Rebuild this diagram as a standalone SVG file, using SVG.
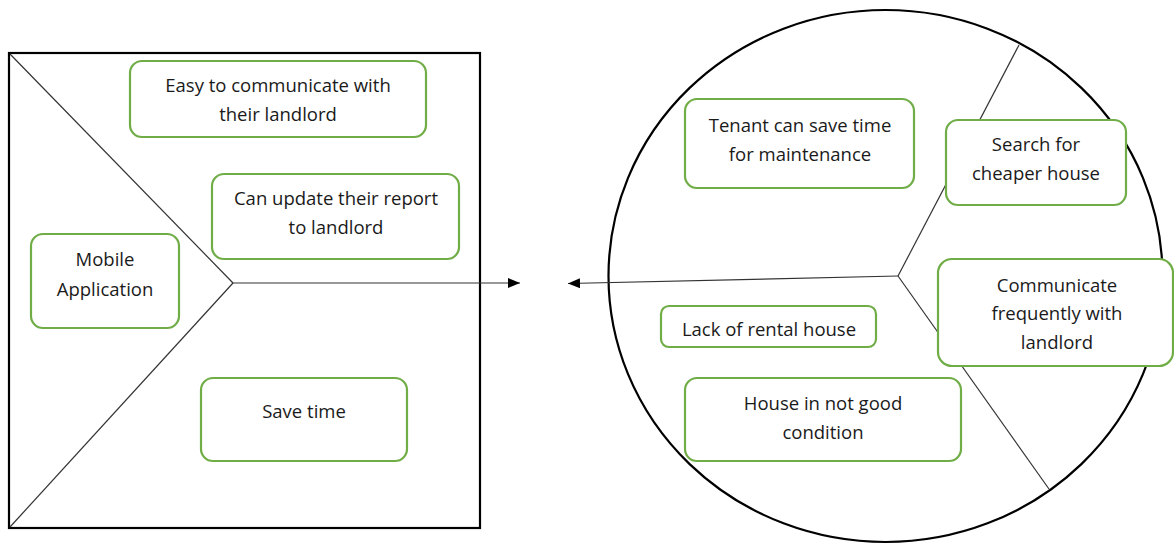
<svg xmlns="http://www.w3.org/2000/svg" width="1174" height="544" viewBox="0 0 1174 544">
  <style>
    .node rect { fill: #ffffff; stroke: #70AD47; stroke-width: 2.2; }
    .node text { font-family: "Open Sans", "Liberation Sans", sans-serif; font-size: 18.5px; fill: #1a1a1a; text-anchor: middle; }
    .conn { stroke: #333333; stroke-width: 1.2; fill: none; }
    .frame { fill: #ffffff; stroke: #000000; stroke-width: 2.2; }
  </style>
  <defs>
    <marker id="arrow" viewBox="0 0 12 10" refX="12" refY="5" markerWidth="12" markerHeight="10" markerUnits="userSpaceOnUse" orient="auto">
      <path d="M0,0 L12,5 L0,10 Z" fill="#000000"/>
    </marker>
  </defs>
  <rect width="1174" height="544" fill="#ffffff"/>
  <g id="frames">
    <rect class="frame" x="9" y="53" width="471" height="475"/>
    <ellipse class="frame" cx="885.5" cy="276" rx="277" ry="266"/>
  </g>
  <g id="connectors">
    <line class="conn" x1="10" y1="54" x2="233" y2="283"/>
    <line class="conn" x1="233" y1="283" x2="10" y2="527"/>
    <line class="conn" x1="233" y1="283" x2="520" y2="283" marker-end="url(#arrow)"/>
    <line class="conn" x1="898" y1="276" x2="1019" y2="45"/>
    <line class="conn" x1="898" y1="276" x2="1049" y2="489"/>
    <line class="conn" x1="898" y1="276" x2="568" y2="283.5" marker-end="url(#arrow)"/>
  </g>
  <g id="n1" class="node">
    <rect x="130" y="61" width="296" height="76" rx="12"/>
    <text x="278" y="92">Easy to communicate with</text>
    <text x="278" y="121">their landlord</text>
  </g>
  <g id="n2" class="node">
    <rect x="212" y="174" width="247" height="85" rx="12"/>
    <text x="336" y="205">Can update their report</text>
    <text x="336" y="234">to landlord</text>
  </g>
  <g id="n3" class="node">
    <rect x="31" y="234" width="148" height="94" rx="12"/>
    <text x="105" y="266">Mobile</text>
    <text x="105" y="296">Application</text>
  </g>
  <g id="n4" class="node">
    <rect x="201" y="378" width="206" height="83" rx="12"/>
    <text x="304" y="418">Save time</text>
  </g>
  <g id="n5" class="node">
    <rect x="685" y="99" width="229" height="89" rx="12"/>
    <text x="800" y="132">Tenant can save time</text>
    <text x="800" y="161">for maintenance</text>
  </g>
  <g id="n6" class="node">
    <rect x="946" y="120" width="180" height="85" rx="12"/>
    <text x="1036" y="151">Search for</text>
    <text x="1036" y="180">cheaper house</text>
  </g>
  <g id="n7" class="node">
    <rect x="938" y="259" width="235" height="107" rx="14"/>
    <text x="1057" y="292">Communicate</text>
    <text x="1057" y="320">frequently with</text>
    <text x="1057" y="349">landlord</text>
  </g>
  <g id="n8" class="node">
    <rect x="661" y="306" width="215" height="41" rx="8"/>
    <text x="769" y="336">Lack of rental house</text>
  </g>
  <g id="n9" class="node">
    <rect x="685" y="378" width="276" height="83" rx="12"/>
    <text x="823" y="410">House in not good</text>
    <text x="823" y="439">condition</text>
  </g>
</svg>
